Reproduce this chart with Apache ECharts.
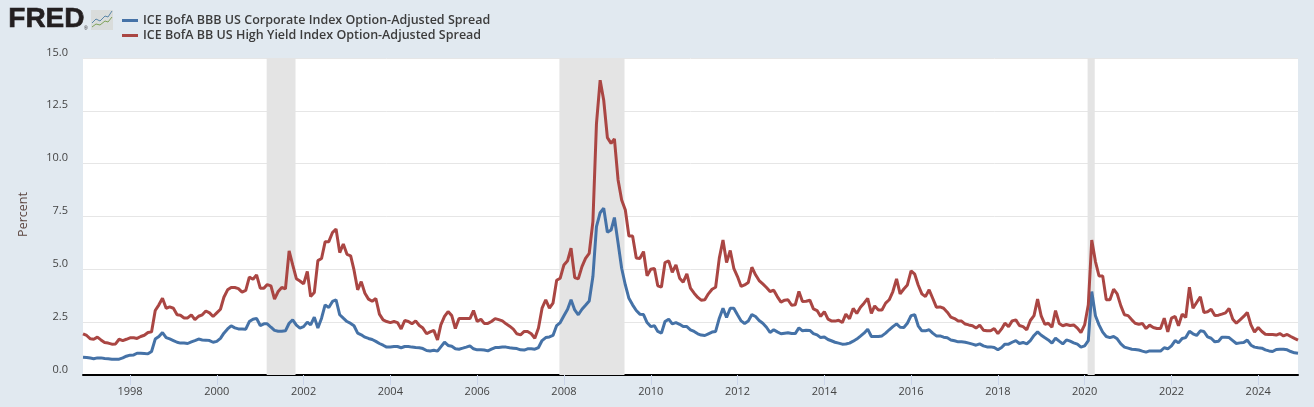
<!DOCTYPE html>
<html>
<head>
<meta charset="utf-8">
<style>
  html, body { margin: 0; padding: 0; background: #e1e9f0; }
  #chart1 { width: 1314px; height: 407px; }
</style>
</head>
<body>
<div id="chart1"></div>
<script src="https://cdn.jsdelivr.net/npm/echarts@6/dist/echarts.min.js"></script>
<script>
  // monthly values, first point Dec 1996
  const startYear = 1996;
  const startMonth = 11;
  const bbbName = 'ICE BofA BBB US Corporate Index Option-Adjusted Spread';
  const bbName = 'ICE BofA BB US High Yield Index Option-Adjusted Spread';

  const bbbValues = [
    0.84,0.83,0.80,0.77,0.81,0.81,0.78,0.77,0.75,0.75,0.75,0.81,0.89,0.94,0.95,1.03,1.03,1.02,1.00,1.11,
    1.70,1.82,2.01,1.77,1.71,1.63,1.55,1.51,1.51,1.49,1.57,1.63,1.70,1.66,1.65,1.63,1.55,1.59,1.73,1.98,
    2.18,2.33,2.23,2.18,2.18,2.17,2.53,2.64,2.68,2.34,2.42,2.42,2.26,2.11,2.07,2.07,2.09,2.45,2.61,2.36,
    2.22,2.29,2.50,2.37,2.74,2.22,2.69,3.32,3.19,3.48,3.56,2.85,2.69,2.53,2.44,2.33,1.98,1.90,1.79,1.73,
    1.68,1.59,1.49,1.41,1.32,1.33,1.35,1.35,1.29,1.35,1.35,1.32,1.30,1.29,1.25,1.16,1.14,1.17,1.13,1.33,
    1.55,1.40,1.36,1.24,1.22,1.27,1.32,1.38,1.24,1.19,1.19,1.18,1.14,1.22,1.30,1.30,1.32,1.32,1.29,1.27,
    1.25,1.19,1.18,1.24,1.24,1.22,1.30,1.63,1.77,1.80,1.87,2.34,2.48,2.80,3.11,3.56,3.08,2.85,3.11,3.30,
    3.50,4.66,7.02,7.68,7.89,6.75,6.86,7.45,6.24,5.05,4.26,3.63,3.32,3.05,2.88,2.86,2.48,2.29,2.33,2.06,
    1.98,2.53,2.64,2.42,2.48,2.40,2.29,2.29,2.14,2.06,1.95,1.89,1.87,1.95,2.03,2.06,2.69,3.16,2.72,3.16,
    3.16,2.85,2.56,2.44,2.56,2.86,2.77,2.58,2.45,2.26,2.01,2.14,2.04,1.95,1.98,2.00,1.96,1.96,2.23,2.09,
    2.12,2.11,1.96,1.90,1.77,1.80,1.68,1.62,1.55,1.51,1.46,1.47,1.51,1.60,1.70,1.84,1.98,2.17,1.82,1.82,
    1.82,1.85,1.98,2.14,2.29,2.42,2.26,2.25,2.45,2.81,2.85,2.33,2.09,2.09,2.14,1.98,1.85,1.85,1.79,1.76,
    1.66,1.62,1.57,1.57,1.55,1.51,1.46,1.41,1.47,1.38,1.33,1.33,1.30,1.19,1.30,1.46,1.46,1.55,1.63,1.49,
    1.54,1.47,1.63,1.87,2.04,1.88,1.76,1.66,1.51,1.74,1.60,1.47,1.66,1.60,1.52,1.46,1.32,1.38,1.63,3.95,
    2.80,2.37,2.03,1.82,1.77,1.82,1.71,1.47,1.32,1.27,1.22,1.21,1.18,1.13,1.08,1.14,1.14,1.13,1.13,1.29,
    1.24,1.38,1.63,1.52,1.73,1.77,2.07,1.95,1.87,2.09,2.06,1.80,1.74,1.57,1.60,1.79,1.79,1.77,1.63,1.49,
    1.52,1.54,1.65,1.41,1.32,1.29,1.27,1.19,1.14,1.11,1.21,1.22,1.22,1.19,1.11,1.05,1.03
  ];

  const bbValues = [
    1.95,1.87,1.71,1.69,1.79,1.66,1.54,1.51,1.46,1.47,1.69,1.63,1.69,1.76,1.76,1.73,1.82,1.88,2.01,2.04,
    3.05,3.32,3.63,3.16,3.22,3.16,2.85,2.83,2.70,2.70,2.85,2.62,2.78,2.85,3.03,2.94,2.77,2.94,3.11,3.68,
    4.03,4.14,4.14,4.09,3.92,4.00,4.63,4.53,4.74,4.11,4.11,4.28,4.22,3.59,3.95,4.14,4.08,5.87,5.21,4.56,
    4.45,4.31,4.90,3.71,3.90,5.41,5.51,6.30,6.31,6.74,6.91,5.79,6.20,5.71,5.64,4.97,4.03,4.42,3.87,3.59,
    3.49,3.62,2.88,2.61,2.53,2.48,2.53,2.48,2.18,2.58,2.53,2.42,2.56,2.34,2.22,1.95,2.04,2.11,1.66,2.37,
    2.77,3.00,2.81,2.20,2.67,2.67,2.67,2.67,3.05,2.53,2.64,2.44,2.44,2.53,2.67,2.62,2.56,2.42,2.31,2.17,
    1.95,1.90,2.06,2.06,1.95,1.74,2.22,3.16,3.56,3.16,3.40,4.48,4.58,5.21,5.41,6.00,4.61,4.55,5.13,5.52,
    5.76,7.26,11.90,13.95,13.00,11.23,10.96,11.17,9.23,8.28,7.81,6.58,6.58,5.54,5.51,5.84,4.69,5.00,5.04,4.22,
    4.16,5.32,5.40,4.86,5.21,4.58,4.39,4.78,4.11,3.87,3.67,3.54,3.56,3.84,4.06,4.15,5.53,6.39,5.32,5.89,
    5.05,4.66,4.19,4.26,4.38,5.10,4.74,4.47,4.31,4.14,3.95,4.01,3.71,3.45,3.54,3.56,3.30,3.32,3.95,3.48,
    3.49,3.54,3.13,3.05,2.77,3.00,2.64,2.56,2.55,2.59,2.48,2.88,2.66,3.15,2.91,3.21,3.40,3.63,2.92,3.27,
    3.08,3.08,3.40,3.56,3.95,4.55,3.84,4.07,4.26,4.93,4.77,4.26,3.84,3.71,4.03,3.63,3.21,3.22,3.16,2.97,
    2.74,2.67,2.55,2.55,2.41,2.37,2.33,2.22,2.36,2.12,2.09,2.09,2.20,1.96,2.18,2.45,2.29,2.56,2.61,2.34,
    2.29,2.14,2.58,2.81,3.59,2.78,2.40,2.45,2.26,3.05,2.44,2.33,2.39,2.34,2.37,2.22,2.01,2.37,3.32,6.39,
    5.37,4.69,4.69,3.56,3.56,4.06,3.84,3.27,2.85,2.81,2.61,2.45,2.40,2.44,2.20,2.36,2.25,2.20,2.20,2.69,
    2.04,2.69,2.77,2.33,2.88,2.72,4.15,3.16,3.43,3.70,2.96,2.99,3.11,2.81,2.83,2.88,2.94,3.15,2.64,2.45,
    2.61,2.77,2.96,2.37,2.03,2.25,2.06,1.93,1.92,1.92,1.89,1.96,1.85,1.92,1.82,1.73,1.65
  ];

  const tickYears = [1998,2000,2002,2004,2006,2008,2010,2012,2014,2016,2018,2020,2022,2024];
  const recessionStarts = ['2001-02-24','2007-11-24','2020-01-26'];
  const recessionEnds = ['2001-10-25','2009-05-25','2020-03-26'];

  function withDates(values) {
    return values.map(function (v, i) {
      return [Date.UTC(startYear, startMonth + i, 1), v];
    });
  }

  const tickTimes = tickYears.map(function (y) { return Date.UTC(y, 0, 1); });
  const bands = recessionStarts.map(function (s, i) {
    return [{ xAxis: Date.parse(s) }, { xAxis: Date.parse(recessionEnds[i]) }];
  });

  const textFont = '"Open Sans", sans-serif';
  const myChart = echarts.init(document.getElementById('chart1'), null, { renderer: 'canvas' });
  const option = {
    animation: false,
    backgroundColor: '#e1e9f0',
    color: ['#4572a7', '#aa4643'],
    textStyle: { fontFamily: textFont },
    grid: { left: 83, right: 16, top: 58, bottom: 32, backgroundColor: '#fff', show: true, borderWidth: 0 },
    legend: {
      orient: 'vertical',
      left: 117,
      top: 8,
      itemGap: 0,
      itemWidth: 16,
      itemHeight: 3,
      icon: 'rect',
      textStyle: {
        fontFamily: textFont,
        fontSize: 12.5,
        fontWeight: 600,
        color: '#3c3c3c',
        lineHeight: 15
      },
      data: [bbbName, bbName]
    },
    // dates as timestamps on a value axis, so the year ticks can be placed from tickYears
    xAxis: {
      type: 'value',
      min: Date.UTC(startYear, startMonth, 1),
      max: Date.UTC(startYear, startMonth + bbbValues.length - 1, 1),
      axisLine: { onZero: false, lineStyle: { color: '#000', width: 2 } },
      axisTick: { customValues: tickTimes, length: 10, lineStyle: { color: '#ccd6eb', width: 1 } },
      axisLabel: {
        customValues: tickTimes,
        formatter: function (v) { return String(new Date(v).getUTCFullYear()); },
        fontFamily: textFont,
        fontSize: 11,
        color: '#444',
        margin: 11,
        showMinLabel: true,
        showMaxLabel: true
      },
      splitLine: { show: false }
    },
    yAxis: {
      type: 'value',
      min: 0,
      max: 15,
      interval: 2.5,
      name: 'Percent',
      nameLocation: 'middle',
      nameGap: 53,
      nameTextStyle: { fontFamily: textFont, fontSize: 12.5, color: '#5c4640', padding: [0, 0, 0, 4] },
      axisLine: { show: false },
      axisTick: { show: false },
      axisLabel: {
        formatter: function (v) { return v.toFixed(1); },
        fontFamily: textFont,
        fontSize: 11,
        color: '#444',
        margin: 15,
        verticalAlign: 'bottom'
      },
      splitLine: { lineStyle: { color: '#e6e6e6', width: 1 } }
    },
    series: [
      {
        name: bbbName,
        type: 'line',
        data: withDates(bbbValues),
        showSymbol: false,
        lineStyle: { width: 3 },
        z: 3,
        markArea: { silent: true, itemStyle: { color: '#e4e4e4' }, data: bands, z: 1 }
      },
      {
        name: bbName,
        type: 'line',
        data: withDates(bbValues),
        showSymbol: false,
        lineStyle: { width: 3 },
        z: 4
      }
    ],
    graphic: [
      { type: 'text', left: 8, top: 5, style: { text: 'FRED', fontFamily: '"Liberation Sans", Arial, sans-serif', fontWeight: 'bold', fontSize: 28, fill: '#231f20', stroke: '#231f20', lineWidth: 0.6 } },
      { type: 'text', left: 84, top: 26, style: { text: '®', fontFamily: '"Liberation Sans", sans-serif', fontSize: 5, fill: '#231f20' } },
      { type: 'rect', shape: { x: 91, y: 10, width: 22, height: 20 }, style: { fill: '#d9dcdb' } },
      { type: 'polyline', shape: { points: [[92, 23], [96, 19], [100, 21], [105, 16], [108, 17], [112, 11]] }, style: { stroke: '#5a86a8', lineWidth: 1, fill: null } },
      { type: 'polyline', shape: { points: [[92, 27], [96, 24], [100, 25], [105, 21], [108, 22], [112, 17]] }, style: { stroke: '#7fa25a', lineWidth: 1, fill: null } }
    ]
  };
  myChart.setOption(option);
</script>
</body>
</html>
